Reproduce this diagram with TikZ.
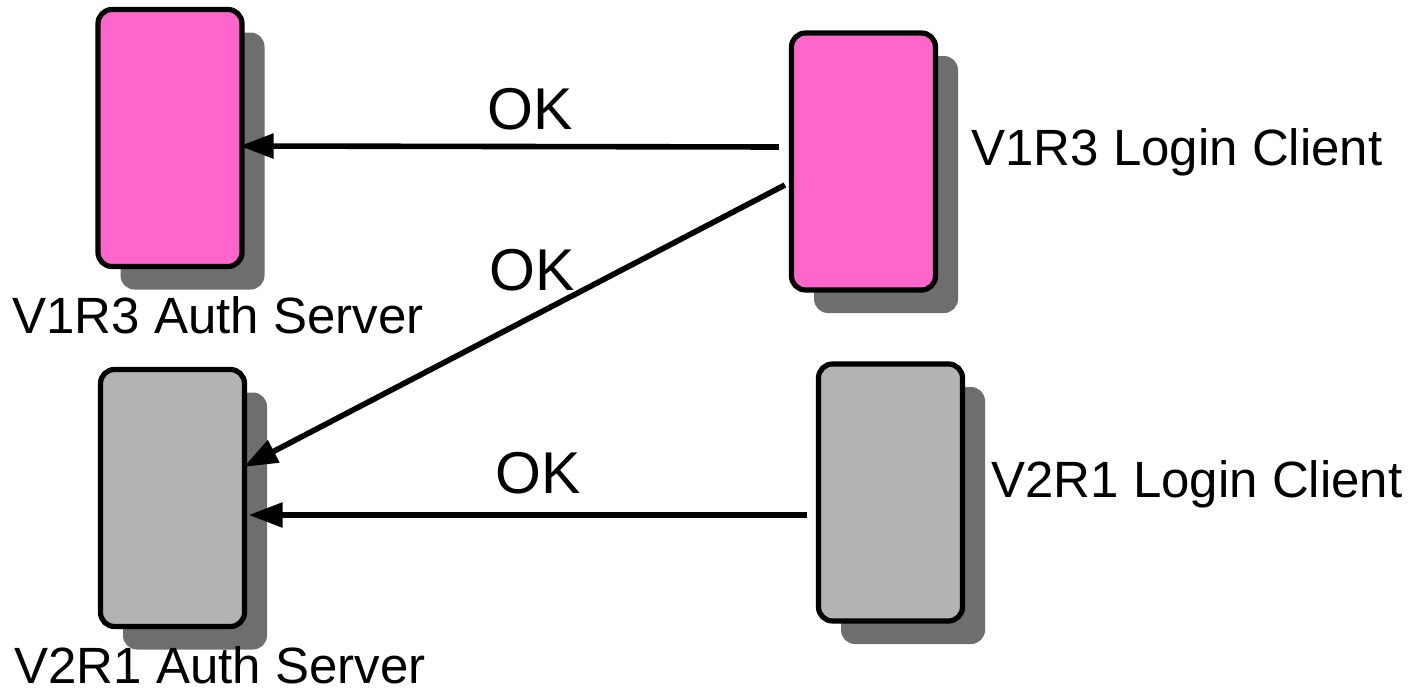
\documentclass[tikz,border=0pt]{standalone}
\usepackage{fontspec}
\setmainfont{Liberation Sans}
\usetikzlibrary{arrows.meta,shadows,calc}
\definecolor{pinkfill}{HTML}{FF66CC}
\definecolor{greyfill}{HTML}{B3B3B3}
\definecolor{shadowgrey}{HTML}{6E6E6E}
\tikzset{
  box/.style={draw=black, line width=2.6pt, rounded corners=7pt,
    minimum width=72pt, minimum height=128.5pt, inner sep=0pt,
    drop shadow={shadow xshift=11.25pt, shadow yshift=-11.5pt,
      fill=shadowgrey, opacity=1}},
  label/.style={anchor=base west, inner sep=0pt,
    font=\fontsize{25.5pt}{30pt}\selectfont},
  oklabel/.style={anchor=base west, inner sep=0pt,
    font=\fontsize{29.5pt}{34pt}\selectfont},
  msg/.style={line width=2.8pt, -{Triangle[length=17pt,width=12pt]}},
}
\begin{document}
\begin{tikzpicture}[x=0.5pt,y=-0.5pt]
  \useasboundingbox (0,0) rectangle (1408,696);

  % servers (left) and clients (right)
  \node[box, fill=pinkfill] (v1srv) at (170,138) {};
  \node[box, fill=pinkfill] (v1cli) at (863.5,161.5) {};
  \node[box, fill=greyfill] (v2cli) at (890.5,492.5) {};
  \node[box, fill=greyfill] (v2srv) at (172.5,498) {};

  % captions
  \node[label] (t1) at (971,165) {V1R3 Login Client};
  \node[label] (t2) at (12,333) {V1R3 Auth Server};
  \node[label] (t3) at (991,497) {V2R1 Login Client};
  \node[label] (t4) at (14,683) {V2R1 Auth Server};

  % login messages
  \draw[msg] ($(v1cli.west)+(-10,-14.5)$) -- ($(v1srv.east)+(-5,8)$);
  \draw[msg] ($(v1cli.west)+(-4,23.5)$) -- ($(v2srv.east)+(-3.5,-31)$);
  \draw[msg] ($(v2cli.west)+(-8.5,22.5)$) -- ($(v2srv.east)+(1.5,17)$);

  \node[oklabel] (ok1) at (487,129) {OK};
  \node[oklabel] (ok2) at (489,290) {OK};
  \node[oklabel] (ok3) at (495,493) {OK};
\end{tikzpicture}
\end{document}
